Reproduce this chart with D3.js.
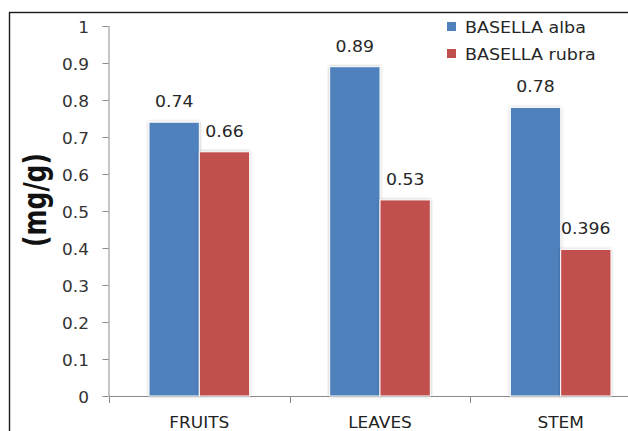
<!DOCTYPE html>
<html>
<head>
<meta charset="utf-8">
<script src="https://cdn.jsdelivr.net/npm/d3@7"></script>
<style>
  html, body { margin: 0; padding: 0; background: #fff; }
  svg { display: block; }
  text { font-family: "DejaVu Sans", sans-serif; }
</style>
</head>
<body>
<script>
// Categories and series
const categories = ["FRUITS", "LEAVES", "STEM"];
const seriesNames = ["BASELLA alba", "BASELLA rubra"];
const albaValues = [0.74, 0.89, 0.78];
const rubraValues = [0.66, 0.53, 0.396];
const valueLabels = [["0.74", "0.66"], ["0.89", "0.53"], ["0.78", "0.396"]];
const yTicks = [0, 0.1, 0.2, 0.3, 0.4, 0.5, 0.6, 0.7, 0.8, 0.9, 1];
const colors = ["#4F81BD", "#C0504D"];

const W = 628, H = 431;
const svg = d3.select("body").append("svg").attr("width", W).attr("height", H);

// soft glow behind the bars
const defs = svg.append("defs");
const f = defs.append("filter").attr("id", "barShadow")
  .attr("x", "-20%").attr("y", "-10%").attr("width", "140%").attr("height", "120%");
f.append("feDropShadow").attr("dx", 0).attr("dy", 0).attr("stdDeviation", 1.6)
  .attr("flood-color", "#000").attr("flood-opacity", 0.28);

// outer frame (runs past the right and bottom edges)
svg.append("rect").attr("x", 9.5).attr("y", 12.5).attr("width", 700).attr("height", 500)
  .attr("fill", "none").attr("stroke", "#1a1a1a").attr("stroke-width", 1.4);

const plotLeft = 109, plotRight = 651, plotTop = 26, plotBottom = 396;

const y = d3.scaleLinear().domain([0, 1]).range([plotBottom, plotTop]);
const x0 = d3.scaleBand().domain(categories).range([plotLeft, plotRight]).padding(0);
const groupPad = 40;
const x1 = d3.scaleBand().domain(seriesNames)
  .range([groupPad, x0.bandwidth() - groupPad]).padding(0);

const data = categories.map((c, i) => ({
  cat: c,
  vals: [
    { s: seriesNames[0], v: albaValues[i], label: valueLabels[i][0], color: colors[0] },
    { s: seriesNames[1], v: rubraValues[i], label: valueLabels[i][1], color: colors[1] }
  ]
}));

// helper: text with a slight horizontal stretch
function stretchedText(g, x, yy, str, size, sx, anchor, fill, weight) {
  return g.append("text")
    .attr("transform", `translate(${x},${yy}) scale(${sx},1)`)
    .attr("text-anchor", anchor)
    .attr("font-size", size)
    .attr("font-weight", weight || "normal")
    .attr("fill", fill)
    .text(str);
}

// Y axis
const axisColor = "#8c8c8c";
const yAxis = svg.append("g")
  .call(d3.axisLeft(y).tickValues(yTicks).tickSize(6).tickFormat(""));
yAxis.select(".domain").attr("stroke", axisColor).attr("d", `M0.5,${plotTop}V${plotBottom}`);
yAxis.selectAll(".tick line").attr("stroke", axisColor);
yAxis.attr("transform", `translate(${plotLeft - 0.5},0)`);
yTicks.forEach(t => {
  stretchedText(svg, 89, y(t) + 7, d3.format("")(+t.toFixed(1)), 15, 1.13, "end", "#333");
});

// X axis
const xAxisG = svg.append("g");
xAxisG.append("line").attr("x1", plotLeft).attr("x2", plotRight)
  .attr("y1", plotBottom + 0.5).attr("y2", plotBottom + 0.5).attr("stroke", axisColor);
const boundaries = categories.map(c => x0(c)).concat([x0(categories[categories.length - 1]) + x0.bandwidth()]);
xAxisG.selectAll("line.tk").data(boundaries).join("line").attr("class", "tk")
  .attr("x1", d => Math.round(d) + 0.5).attr("x2", d => Math.round(d) + 0.5)
  .attr("y1", plotBottom).attr("y2", plotBottom + 7).attr("stroke", axisColor);
categories.forEach(c => {
  stretchedText(svg, x0(c) + x0.bandwidth() / 2, 428, c, 15, 1.13, "middle", "#222");
});

// Bars
const groups = svg.selectAll("g.cat").data(data).join("g").attr("class", "cat")
  .attr("transform", d => `translate(${x0(d.cat)},0)`);
groups.selectAll("rect").data(d => d.vals).join("rect")
  .attr("x", d => x1(d.s))
  .attr("y", d => y(d.v))
  .attr("width", x1.bandwidth())
  .attr("height", d => y(0) - y(d.v))
  .attr("fill", d => d.color)
  .attr("stroke", "#fff").attr("stroke-width", 1)
  .attr("filter", "url(#barShadow)");

// Value labels
data.forEach(d => {
  d.vals.forEach(v => {
    stretchedText(svg, x0(d.cat) + x1(v.s) + x1.bandwidth() / 2, y(v.v) - 15,
      v.label, 16, 1.08, "middle", "#262626");
  });
});

// Y axis title
svg.append("text")
  .attr("transform", "translate(46,200) scale(1.25,1) rotate(-90)")
  .attr("text-anchor", "middle")
  .attr("font-size", 25)
  .attr("font-weight", "bold")
  .attr("fill", "#111")
  .text("(mg/g)");

// Legend
const legend = svg.append("g");
seriesNames.forEach((s, i) => {
  const ly = 22 + i * 27;
  legend.append("rect").attr("x", 447).attr("y", ly).attr("width", 9).attr("height", 9)
    .attr("fill", colors[i]);
  stretchedText(legend, 465, ly + 11, s, 15.5, 1.13, "start", "#262626");
});
</script>
</body>
</html>
